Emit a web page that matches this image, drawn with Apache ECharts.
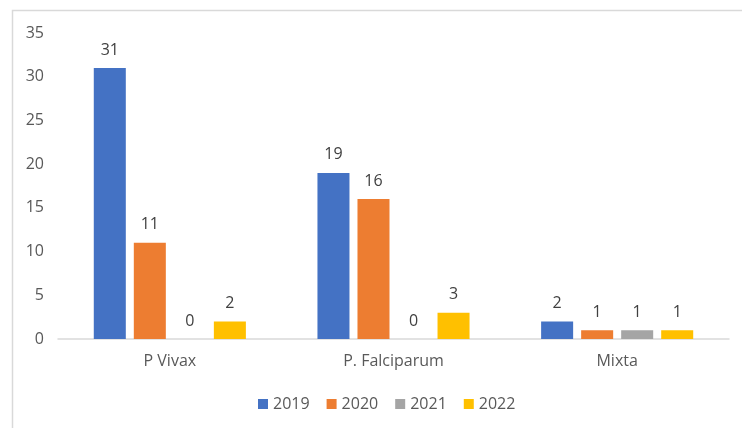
<!DOCTYPE html>
<html>
<head>
<meta charset="utf-8">
<script src="https://cdn.jsdelivr.net/npm/echarts@6/dist/echarts.min.js"></script>
<style>
html,body{margin:0;padding:0;background:#fff;}
#c{width:742px;height:428px;}
</style>
</head>
<body>
<div id="c"></div>
<script>
const categories = ['P Vivax', 'P. Falciparum', 'Mixta'];
const years = ['2019', '2020', '2021', '2022'];
const values2019 = [31, 19, 2];
const values2020 = [11, 16, 1];
const values2021 = [0, 0, 1];
const values2022 = [2, 3, 1];
const colors = ['#4472C4', '#ED7D31', '#A5A5A5', '#FFC000'];
const seriesValues = [values2019, values2020, values2021, values2022];

const font = "'Open Sans', 'Noto Sans', sans-serif";
const chart = echarts.init(document.getElementById('c'));
chart.setOption({
  animation: false,
  textStyle: { fontFamily: font },
  graphic: [{
    type: 'rect', left: 10, top: 8,
    shape: { width: 740, height: 440 },
    style: { fill: 'none', stroke: '#d9d9d9', lineWidth: 1.5 },
    silent: true
  }],
  grid: { left: 58, right: 13, top: 33, bottom: 89 },
  legend: {
    bottom: 11, left: 253,
    itemWidth: 10, itemHeight: 10, itemGap: 17,
    icon: 'rect',
    textStyle: { color: '#595959', fontSize: 16, fontFamily: font },
    data: years
  },
  xAxis: {
    type: 'category', data: categories,
    axisLine: { lineStyle: { color: '#d9d9d9', width: 1.5 } },
    axisTick: { show: false },
    axisLabel: { color: '#595959', fontSize: 16, margin: 14, fontFamily: font }
  },
  yAxis: {
    type: 'value', min: 0, max: 35, interval: 5,
    axisLine: { show: false }, axisTick: { show: false },
    splitLine: { show: false },
    axisLabel: { color: '#595959', fontSize: 16, margin: 14, fontFamily: font }
  },
  series: years.map((y, i) => ({
    name: y, type: 'bar', data: seriesValues[i],
    barGap: '25%', barCategoryGap: '32%',
    itemStyle: { color: colors[i] },
    label: { show: true, position: 'top', distance: 10, color: '#404040', fontSize: 16, fontFamily: font }
  }))
});
</script>
</body>
</html>
